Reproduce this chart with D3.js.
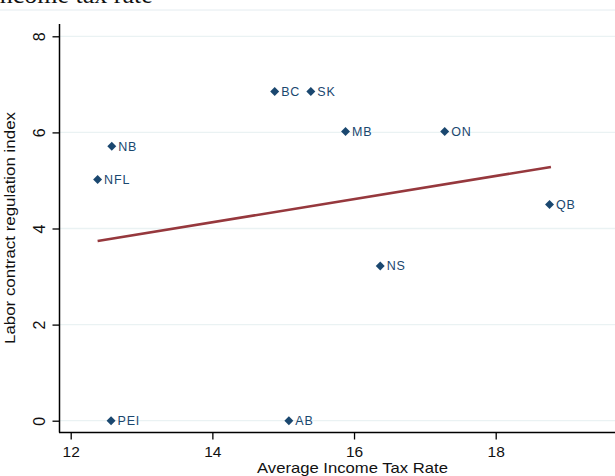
<!DOCTYPE html>
<html>
<head>
<meta charset="utf-8">
<script src="https://cdn.jsdelivr.net/npm/d3@7"></script>
<style>
  body { margin:0; background:#ffffff; overflow:hidden; }
  svg { display:block; }
</style>
</head>
<body>
<svg></svg>
<script>
var provinces = ["BC","SK","MB","ON","NB","NFL","QB","NS","PEI","AB"];
var taxRate = [14.88,15.39,15.88,17.28,12.58,12.38,18.76,16.37,12.57,15.08];
var laborIndex = [6.85,6.85,6.02,6.02,5.71,5.02,4.50,3.22,0,0];

var fitX = [12.38,18.78];
var fitY = [3.74,5.28];

var xTicks = [12,14,16,18];
var yTicks = [0,2,4,6,8];

var screen =
{
  width:615,
  height:476
};

var svg = d3.select("svg")
            .attr("width",screen.width)
            .attr("height",screen.height);

var xScale = d3.scaleLinear()
              .domain([12,18])
              .range([70.7,495.7]);

var yScale = d3.scaleLinear()
              .domain([0,8])
              .range([420.7,36.3]);

var axisFont = "'Liberation Sans', Arial, sans-serif";
var navy = "#1a476f";

// cut-off caption above the graph
svg.append("text")
   .attr("x",-9)
   .attr("y",2.5)
   .attr("font-family","'Liberation Serif', 'Times New Roman', serif")
   .attr("font-size",26)
   .attr("fill","#111")
   .text("Income tax rate");

svg.append("line")
   .attr("x1",0).attr("x2",screen.width)
   .attr("y1",10).attr("y2",10)
   .attr("stroke","#e4ecf0")
   .attr("stroke-width",1);

// grid
svg.append("g")
   .selectAll("line")
   .data(yTicks)
   .enter()
   .append("line")
   .attr("x1",59.5)
   .attr("x2",screen.width)
   .attr("y1",function(d){return yScale(d);})
   .attr("y2",function(d){return yScale(d);})
   .attr("stroke","#eaf2f3")
   .attr("stroke-width",1.3);

// y axis
var yAxis = d3.axisLeft(yScale)
              .tickValues(yTicks)
              .tickFormat(d3.format("d"))
              .tickSize(7)
              .tickSizeOuter(0)
              .tickPadding(0);

var yG = svg.append("g")
            .attr("transform","translate(59.5,0)")
            .call(yAxis);

yG.select(".domain").remove();
yG.selectAll(".tick line").attr("stroke","#000").attr("stroke-width",1.3);
yG.selectAll(".tick text")
  .attr("x",0).attr("y",0).attr("dy",null)
  .attr("text-anchor","middle")
  .attr("transform","translate(-15,0) rotate(-90)")
  .attr("font-family",axisFont)
  .attr("font-size",16)
  .attr("fill","#111");

svg.append("line")
   .attr("x1",59.5).attr("x2",59.5)
   .attr("y1",24).attr("y2",432.5)
   .attr("stroke","#000")
   .attr("stroke-width",1.5);

// x axis
var xAxis = d3.axisBottom(xScale)
              .tickValues(xTicks)
              .tickFormat(d3.format("d"))
              .tickSize(7)
              .tickSizeOuter(0)
              .tickPadding(4);

var xG = svg.append("g")
            .attr("transform","translate(0,432.5)")
            .call(xAxis);

xG.select(".domain").remove();
xG.selectAll(".tick line").attr("stroke","#000").attr("stroke-width",1.3);
xG.selectAll(".tick text")
  .attr("dy",null)
  .attr("y",24.5)
  .attr("font-family",axisFont)
  .attr("font-size",15.5)
  .attr("fill","#111");

svg.append("line")
   .attr("x1",59).attr("x2",screen.width)
   .attr("y1",432.5).attr("y2",432.5)
   .attr("stroke","#000")
   .attr("stroke-width",1.5);

// axis titles
svg.append("text")
   .attr("x",352.5)
   .attr("y",472.5)
   .attr("text-anchor","middle")
   .attr("font-family",axisFont)
   .attr("font-size",15)
   .attr("textLength",191)
   .attr("lengthAdjust","spacingAndGlyphs")
   .attr("fill","#111")
   .text("Average Income Tax Rate");

svg.append("text")
   .attr("transform","translate(15,228) rotate(-90)")
   .attr("text-anchor","middle")
   .attr("font-family",axisFont)
   .attr("font-size",15.5)
   .attr("textLength",232)
   .attr("lengthAdjust","spacingAndGlyphs")
   .attr("fill","#111")
   .text("Labor contract regulation index");

// fitted line
var fit = fitX.map(function(d,i){return [d,fitY[i]];});

svg.append("path")
   .datum(fit)
   .attr("d",d3.line()
             .x(function(d){return xScale(d[0]);})
             .y(function(d){return yScale(d[1]);}))
   .attr("fill","none")
   .attr("stroke","#96383d")
   .attr("stroke-width",2.6);

// points
var pts = provinces.map(function(d,i)
{
  return {name:d, x:taxRate[i], y:laborIndex[i]};
});

var marks = svg.append("g")
               .selectAll("g")
               .data(pts)
               .enter()
               .append("g")
               .attr("transform",function(d)
               {
                 return "translate("+xScale(d.x)+","+yScale(d.y)+")";
               });

marks.append("path")
     .attr("d",d3.symbol().type(d3.symbolSquare).size(40))
     .attr("transform","rotate(45)")
     .attr("fill",navy);

marks.append("text")
     .attr("x",6.5)
     .attr("y",4.5)
     .attr("font-family",axisFont)
     .attr("font-size",12.5)
     .attr("letter-spacing",0.8)
     .attr("fill",navy)
     .text(function(d){return d.name;});
</script>
</body>
</html>
